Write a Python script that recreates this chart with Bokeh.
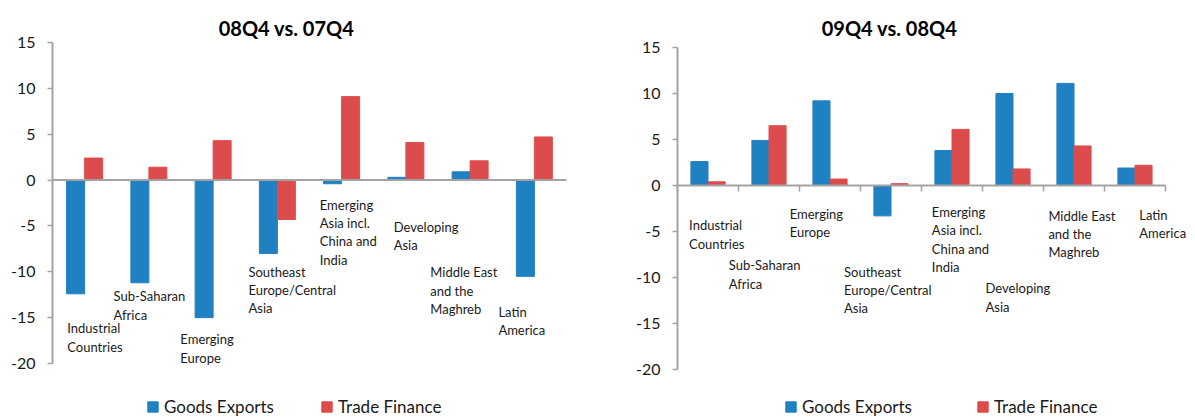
import numpy as np
from bokeh.plotting import figure
from bokeh.models import ColumnDataSource, Range1d, FixedTicker, Legend, LegendItem
from bokeh.core.properties import value
from bokeh.embed import file_html
from bokeh.resources import INLINE

# ---------------- data ----------------
categories = [
    "Industrial\nCountries",
    "Sub-Saharan\nAfrica",
    "Emerging\nEurope",
    "Southeast\nEurope/Central\nAsia",
    "Emerging\nAsia incl.\nChina  and\nIndia",
    "Developing\nAsia",
    "Middle East\nand the\nMaghreb",
    "Latin\nAmerica",
]
series_names = ["Goods Exports", "Trade Finance"]
titles = ["08Q4 vs. 07Q4", "09Q4 vs. 08Q4"]

goods_08q4 = [-12.4, -11.2, -15.0, -8.0, -0.4, 0.3, 0.9, -10.5]
trade_08q4 = [2.4, 1.4, 4.3, -4.3, 9.1, 4.1, 2.1, 4.7]

goods_09q4 = [2.6, 4.9, 9.2, -3.3, 3.8, 10.0, 11.1, 1.9]
trade_09q4 = [0.4, 6.5, 0.7, 0.2, 6.1, 1.8, 4.3, 2.2]

y_ticks = [15, 10, 5, 0, -5, -10, -15, -20]

# category-label placement (offset in category widths, top in axis units)
label_dx_08 = [-0.27, -0.55, -0.51, -0.45, -0.34, -0.19, -0.62, -0.56]
label_top_08 = [-15.3, -11.8, -16.5, -9.1, -1.8, -4.2, -9.2, -13.5]
label_dx_09 = [-0.31, -0.66, -0.66, -0.77, -0.33, -0.45, -0.42, 0.07]
label_top_09 = [-3.45, -7.8, -2.2, -8.5, -2.0, -10.3, -2.4, -2.3]

# ---------------- layout / style (pixels) ----------------
BLUE = "#1f80c2"
RED = "#dd4c4c"
AXIS = "#a3a3a3"
TXT = "#1a1a1a"
FONT = "Lato"
FIG_W, FIG_H = 1195, 417
FRAME_L = 52

LEFT = dict(x0=52, cw=64.25, top=42, bottom=363, title_x=286, title_base=27,
            legend_x=146, legend_gap=46)
RIGHT = dict(x0=677, cw=61.0, top=47, bottom=369, title_x=889, title_base=27,
             legend_x=784, legend_gap=64)

ymax, ymin = max(y_ticks), min(y_ticks)


def yrange(g):
    ppu = (g["bottom"] - g["top"]) / (ymax - ymin)
    return Range1d(ymin - (FIG_H - g["bottom"]) / ppu,
                   ymax + g["top"] / ppu)


p = figure(width=FIG_W, height=FIG_H,
           x_range=Range1d(FRAME_L, FIG_W), y_range=yrange(LEFT),
           title=None, output_backend="svg", toolbar_location=None,
           min_border_left=FRAME_L, min_border_right=0,
           min_border_top=0, min_border_bottom=0)
p.extra_y_ranges = {"r": yrange(RIGHT)}
p.xgrid.visible = False
p.ygrid.visible = False
p.outline_line_color = None
p.xaxis.visible = False

ya = p.yaxis[0]
ya.ticker = FixedTicker(ticks=y_ticks)
ya.bounds = (ymin, ymax)
ya.major_label_overrides = {t: str(t) for t in y_ticks}
ya.axis_line_color = AXIS
ya.axis_line_width = 2
ya.major_tick_line_color = AXIS
ya.major_tick_line_width = 1.5
ya.major_tick_out = 5
ya.major_tick_in = 0
ya.minor_tick_out = 0
ya.minor_tick_in = 0
ya.major_label_text_font = FONT
ya.major_label_text_font_size = "16px"
ya.major_label_text_color = TXT
ya.major_label_standoff = 12


def draw_chart(g, title, goods, trade, dx, top, yname, boundary_ticks, own_axis):
    n = len(categories)
    idx = np.arange(n)
    cw = g["cw"]
    cx = g["x0"] + (idx + 0.5) * cw
    bw = 0.28 * cw
    src = ColumnDataSource(dict(xb=cx - bw / 2, xr=cx + bw / 2, goods=goods, trade=trade))
    r1 = p.vbar(x="xb", top="goods", bottom=0, width=bw, source=src,
                fill_color=BLUE, line_color=BLUE, y_range_name=yname)
    r2 = p.vbar(x="xr", top="trade", bottom=0, width=bw, source=src,
                fill_color=RED, line_color=RED, y_range_name=yname)

    # category axis line at zero
    p.line(x=[g["x0"], g["x0"] + n * cw], y=[0, 0], line_color=AXIS,
           line_width=2, y_range_name=yname)
    if boundary_ticks:
        bx = g["x0"] + np.arange(n + 1) * cw
        p.ray(x=bx, y=np.zeros(n + 1), length=6, length_units="screen",
              angle=-np.pi / 2, line_color=AXIS, line_width=1.5, y_range_name=yname)

    if own_axis:
        p.line(x=[g["x0"], g["x0"]], y=[ymin, ymax], line_color=AXIS,
               line_width=2, y_range_name=yname)
        p.ray(x=[g["x0"]] * len(y_ticks), y=y_ticks, length=5, length_units="screen",
              angle=np.pi, line_color=AXIS, line_width=1.5, y_range_name=yname)
        p.text(x=[g["x0"]] * len(y_ticks), y=y_ticks, text=[str(t) for t in y_ticks],
               x_offset=-17, text_align="right", text_baseline="middle",
               text_font=value(FONT), text_font_size=value("16px"),
               text_color=TXT, y_range_name=yname)

    # category labels
    p.text(x=cx + np.array(dx) * cw, y=top, text=categories,
           text_font=value(FONT), text_font_size=value("13px"),
           text_color=TXT, text_align="left", text_baseline="top",
           text_line_height=1.15, y_range_name=yname)

    # chart title
    p.text(x=[g["title_x"]], y=[ymax], text=[title],
           y_offset=-(g["top"] - g["title_base"]),
           text_align="center", text_baseline="alphabetic",
           text_font=value(FONT), text_font_size=value("20px"),
           text_font_style="bold", text_color="#000000", y_range_name=yname)

    legend = Legend(items=[LegendItem(label=series_names[0], renderers=[r1]),
                           LegendItem(label=series_names[1], renderers=[r2])],
                    orientation="horizontal",
                    location=(g["legend_x"] - FRAME_L, 0),
                    label_text_font=FONT, label_text_font_size="17px",
                    label_text_color=TXT,
                    glyph_width=13, glyph_height=13, spacing=g["legend_gap"],
                    label_standoff=5, border_line_color=None,
                    background_fill_alpha=0, padding=0, margin=0)
    p.add_layout(legend)


draw_chart(LEFT, titles[0], goods_08q4, trade_08q4, label_dx_08, label_top_08,
           "default", False, False)
draw_chart(RIGHT, titles[1], goods_09q4, trade_09q4, label_dx_09, label_top_09,
           "r", True, True)

open("out.html", "w").write(file_html(p, INLINE))
